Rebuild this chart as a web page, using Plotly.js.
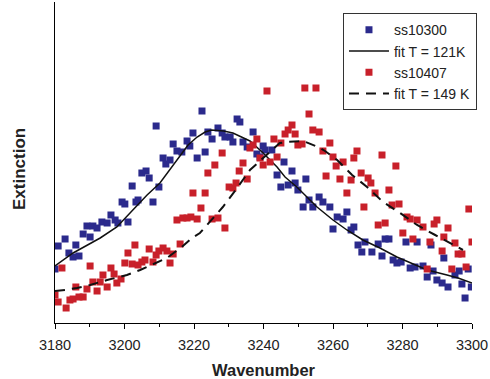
<!DOCTYPE html>
<html>
<head>
<meta charset="utf-8">
<script src="https://cdn.plot.ly/plotly-3.0.1.min.js"></script>
<style>html,body{margin:0;padding:0;background:#fff;}#chart{width:490px;height:379px;}</style>
</head>
<body>
<div id="chart"></div>
<script>
// ss10300 (blue) measured points
var blueX = [3180.0,3180.9,3182.9,3184.0,3185.2,3186.0,3186.9,3188.1,3189.2,3190.1,3190.9,3192.1,3193.5,3195.0,3196.1,3197.3,3198.1,3199.3,3200.1,3201.0,3202.2,3203.3,3203.9,3205.0,3206.2,3207.1,3208.2,3209.1,3209.9,3211.1,3211.9,3213.1,3214.0,3215.1,3216.5,3218.0,3218.8,3219.7,3220.9,3222.3,3223.2,3224.0,3225.2,3226.9,3228.1,3228.9,3230.4,3231.2,3232.4,3233.2,3234.1,3235.3,3237.0,3238.1,3239.0,3239.9,3240.4,3242.4,3243.9,3245.0,3245.9,3247.1,3248.2,3249.1,3249.9,3251.4,3252.2,3253.1,3254.2,3256.0,3257.1,3259.1,3260.0,3261.2,3262.9,3264.0,3265.2,3266.0,3267.2,3268.3,3269.2,3271.2,3273.0,3274.1,3275.0,3276.1,3277.3,3278.4,3279.6,3281.0,3282.2,3283.6,3284.2,3285.9,3287.1,3288.2,3288.8,3289.9,3291.4,3291.9,3293.1,3295.1,3296.3,3297.1,3298.0,3298.9,3299.8];
var blueY = [54,77,84,70,66,78,67,89,97,86,97,95,101,100,108,103,100,121,119,101,137,121,123,150,152,145,121,197,136,165,159,163,179,172,171,182,177,190,165,212,171,191,184,195,190,186,186,181,204,201,181,176,191,169,166,177,173,173,148,136,161,138,152,140,133,116,144,123,116,126,121,116,94,106,104,111,93,96,78,71,81,71,79,67,84,84,63,60,61,81,55,56,81,57,46,78,52,43,40,65,36,48,52,39,25,54,36];

// ss10407 (red) measured points
var redX = [3180.0,3180.9,3182.0,3183.2,3184.3,3185.2,3186.0,3186.9,3188.1,3189.2,3190.1,3190.9,3192.1,3193.0,3193.8,3195.0,3196.1,3197.0,3197.8,3199.0,3200.1,3201.0,3202.2,3203.0,3203.9,3205.0,3205.9,3207.1,3208.2,3209.1,3209.9,3211.1,3212.2,3213.1,3214.0,3215.1,3216.0,3216.8,3218.0,3219.1,3219.7,3220.9,3222.0,3223.2,3224.0,3225.2,3226.0,3226.9,3228.1,3228.9,3230.1,3231.2,3232.1,3233.0,3234.1,3235.3,3236.1,3237.0,3238.1,3239.0,3239.9,3241.0,3241.9,3243.0,3243.9,3245.0,3246.2,3247.1,3248.2,3249.1,3249.9,3251.1,3251.9,3253.1,3254.2,3255.1,3256.0,3257.1,3258.0,3259.1,3260.0,3260.9,3262.0,3262.9,3264.0,3265.2,3266.0,3266.9,3268.1,3268.9,3270.1,3270.9,3272.1,3273.0,3274.1,3275.0,3276.1,3277.0,3278.1,3279.0,3280.1,3281.3,3282.2,3283.0,3284.2,3285.9,3287.1,3287.9,3289.1,3289.9,3291.4,3291.9,3293.1,3294.2,3295.1,3296.0,3297.1,3298.3,3299.1,3300.0];
var redY = [28,21,55,15,23,24,36,26,26,34,57,41,32,41,48,36,55,49,40,44,60,70,59,78,58,61,63,74,61,68,72,75,72,60,69,103,79,105,105,106,130,104,115,130,150,104,158,105,170,95,136,135,140,152,160,144,175,178,184,165,158,232,161,184,166,180,189,193,198,189,178,179,235,209,193,235,191,172,147,180,166,157,144,161,130,143,165,172,150,116,145,140,130,98,168,100,133,118,157,119,90,106,104,84,103,96,54,81,99,103,72,86,95,54,80,69,69,56,114,81];

// fit T = 121K (solid)
var fit1X = [3180.0,3185.2,3193.0,3197.8,3202.4,3206.5,3210.2,3214.0,3218.3,3220.9,3223.2,3225.1,3228.5,3231.2,3236.1,3239.6,3241.9,3243.9,3246.2,3249.6,3252.5,3255.4,3260.0,3264.0,3268.6,3273.5,3278.4,3282.2,3287.1,3292.8,3296.0,3300.0];
var fit1Y = [57,70,85,96,113,128,140,158,178,186,191,193,192,190,182,171,163,156,146,136,126,116,103,93,83,75,66,60,53,48,45,40];

// fit T = 149 K (dashed)
var fit2X = [3180.0,3182.9,3186.3,3190.1,3195.0,3200.7,3204.5,3208.2,3212.2,3216.8,3219.4,3221.7,3224.6,3228.3,3232.4,3236.1,3239.9,3241.9,3244.7,3246.8,3251.4,3255.7,3257.7,3261.2,3265.5,3269.8,3274.4,3279.3,3284.2,3289.4,3294.5,3297.4];
var fit2Y = [32,33,35,38,43,48,53,59,65,77,85,90,101,116,135,153,165,171,180,181,182,176,172,163,148,136,121,110,98,88,78,73];

var xTickVals = [3180,3200,3220,3240,3260,3280,3300];
var xTickText = ['3180','3200','3220','3240','3260','3280','3300'];

var FONT = 'Liberation Sans, Arial, Helvetica, sans-serif';
var BLUE = '#2b2a8c';
var RED = '#c8202a';

var traces = [
  {x: blueX, y: blueY, type: 'scatter', mode: 'markers', name: 'ss10300',
   marker: {symbol: 'square', size: 7, color: BLUE}},
  {x: fit1X, y: fit1Y, type: 'scatter', mode: 'lines', name: 'fit T = 121K',
   line: {color: '#111', width: 1.5}},
  {x: redX, y: redY, type: 'scatter', mode: 'markers', name: 'ss10407',
   marker: {symbol: 'square', size: 7, color: RED}},
  {x: fit2X, y: fit2Y, type: 'scatter', mode: 'lines', name: 'fit T = 149 K',
   line: {color: '#111', width: 2, dash: '10px,7px'}}
];

var layout = {
  width: 490, height: 379,
  margin: {l: 55, r: 18, t: 2, b: 56, pad: 0},
  paper_bgcolor: '#fff', plot_bgcolor: '#fff',
  font: {family: FONT, color: '#222'},
  showlegend: true,
  legend: {
    x: 0.6906, y: 0.965, xanchor: 'left', yanchor: 'top',
    bgcolor: '#fff', bordercolor: '#333', borderwidth: 1,
    font: {family: FONT, size: 14, color: '#222'},
    tracegroupgap: 0, itemwidth: 40
  },
  xaxis: {
    range: [3180, 3300], autorange: false,
    tickmode: 'array', tickvals: xTickVals, ticktext: xTickText,
    ticks: 'outside', ticklen: 5, tickcolor: '#000', tickwidth: 1,
    ticklabelstandoff: 4,
    minor: {dtick: 10, tick0: 3180, ticks: 'outside', ticklen: 3, tickcolor: '#000'},
    showline: true, linecolor: '#000', linewidth: 1,
    showgrid: false, zeroline: false,
    tickfont: {family: FONT, size: 14.5, color: '#222'},
    title: {text: '<b>Wavenumber</b>', font: {family: FONT, size: 16.5, color: '#222'}, standoff: 17},
    automargin: false
  },
  yaxis: {
    range: [0, 321], autorange: false,
    showline: true, linecolor: '#000', linewidth: 1,
    ticks: '', showticklabels: false,
    showgrid: false, zeroline: false,
    automargin: false
  },
  annotations: [{
    text: '<b>Extinction</b>', textangle: -90,
    xref: 'paper', yref: 'paper', x: 0, y: 0.4798,
    xanchor: 'center', yanchor: 'middle', xshift: -35,
    showarrow: false,
    font: {family: FONT, size: 17, color: '#222'}
  }]
};

Plotly.newPlot('chart', traces, layout, {displayModeBar: false, staticPlot: true});
</script>
</body>
</html>
